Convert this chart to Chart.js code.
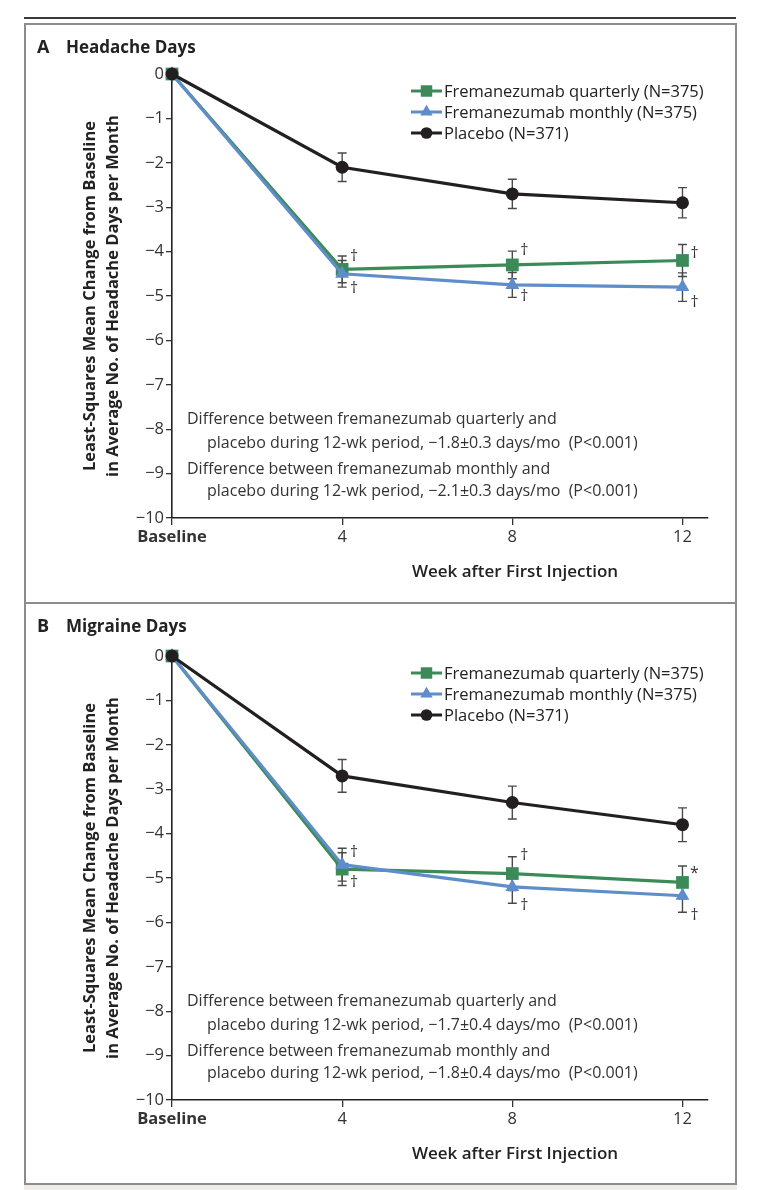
<!DOCTYPE html>
<html>
<head>
<meta charset="utf-8">
<script src="https://cdn.jsdelivr.net/npm/chart.js@4.4.0/dist/chart.umd.min.js"></script>
<style>
  html, body { margin: 0; padding: 0; background: #fff; }
  #wrap { position: relative; width: 775px; height: 1190px; overflow: hidden; }
  .rule { position: absolute; left: 24px; top: 17px; width: 712px; height: 2px; background: #3a3a3a; }
  .frame { position: absolute; left: 24px; top: 23px; width: 709px; height: 1158px; border: 2px solid #8c8c8c; }
  .sep { position: absolute; left: 24px; top: 602px; width: 713px; height: 2px; background: #8c8c8c; }
  .foot { position: absolute; left: 24px; top: 1185px; width: 713px; height: 5px; background: #efedea; }
  canvas { position: absolute; left: 0; }
</style>
</head>
<body>
<div id="wrap">
  <div class="rule"></div>
  <div class="frame"></div>
  <div class="sep"></div>
  <div class="foot"></div>
  <canvas id="panelA" width="775" height="603" style="top:0;width:775px;height:603px"></canvas>
  <canvas id="panelB" width="775" height="587" style="top:603px;width:775px;height:587px"></canvas>
</div>
<script>
// semanas e rótulos dos eixos
const weeks = [0, 4, 8, 12];
const xTicks = [0, 4, 8, 12];
const xTickLabels = ['Baseline', '4', '8', '12'];
const yTicks = [0, -1, -2, -3, -4, -5, -6, -7, -8, -9, -10];

const seriesNames = ['Fremanezumab quarterly (N=375)', 'Fremanezumab monthly (N=375)', 'Placebo (N=371)'];

// Painel A - dias de cefaleia
const quarterlyA = [0, -4.4, -4.3, -4.2];
const quarterlyErrA = [0, 0.3, 0.31, 0.36];
const monthlyA = [0, -4.5, -4.75, -4.8];
const monthlyErrA = [0, 0.3, 0.28, 0.32];
const placeboA = [0, -2.1, -2.7, -2.9];
const placeboErrA = [0, 0.32, 0.33, 0.34];

// Painel B - dias de enxaqueca
const quarterlyB = [0, -4.8, -4.9, -5.1];
const quarterlyErrB = [0, 0.37, 0.38, 0.37];
const monthlyB = [0, -4.7, -5.2, -5.4];
const monthlyErrB = [0, 0.37, 0.37, 0.37];
const placeboB = [0, -2.7, -3.3, -3.8];
const placeboErrB = [0, 0.37, 0.37, 0.38];

// símbolos de significância: [semana, valor, texto]
const symbolsA = [[4, -4.12, '†'], [4, -4.82, '†'], [8, -3.98, '†'], [8, -5.02, '†'], [12, -4.05, '†'], [12, -5.15, '†']];
const symbolsB = [[4, -4.42, '†'], [4, -5.1, '†'], [8, -4.5, '†'], [8, -5.62, '†'], [12, -4.9, '*'], [12, -5.85, '†']];

const notesA = [
  'Difference between fremanezumab quarterly and',
  'placebo during 12-wk period, \u22121.8\u00b10.3 days/mo  (P<0.001)',
  'Difference between fremanezumab monthly and',
  'placebo during 12-wk period, \u22122.1\u00b10.3 days/mo  (P<0.001)'
];
const notesB = [
  'Difference between fremanezumab quarterly and',
  'placebo during 12-wk period, \u22121.7\u00b10.4 days/mo  (P<0.001)',
  'Difference between fremanezumab monthly and',
  'placebo during 12-wk period, \u22121.8\u00b10.4 days/mo  (P<0.001)'
];

const GREEN = '#3b8a58';
const BLUE = '#5f8dca';
const BLACK = '#231f20';
const FONT = "'Open Sans', 'Noto Sans', sans-serif";

Chart.defaults.font.family = FONT;

// desenha o marcador da legenda (mesmas formas do Chart.js)
function drawMarker(ctx, style, r, x, y) {
  ctx.beginPath();
  if (style === 'circle') {
    ctx.arc(x, y, r, 0, Math.PI * 2);
  } else if (style === 'rect') {
    const s = Math.SQRT1_2 * r;
    ctx.rect(x - s, y - s, 2 * s, 2 * s);
  } else if (style === 'triangle') {
    ctx.moveTo(x, y - r);
    ctx.lineTo(x + r * 0.866, y + r / 2);
    ctx.lineTo(x - r * 0.866, y + r / 2);
    ctx.closePath();
  }
  ctx.fill();
}

const panelDecor = {
  id: 'panelDecor',
  beforeDatasetsDraw(chart) {
    // barras de erro
    const ctx = chart.ctx;
    const xs = chart.scales.x, ys = chart.scales.y;
    ctx.save();
    ctx.strokeStyle = '#4a4a4a';
    ctx.lineWidth = 1.4;
    chart.data.datasets.forEach(ds => {
      ds.data.forEach((p, i) => {
        const e = ds.errors[i];
        if (!e) return;
        const x = xs.getPixelForValue(p.x);
        const y1 = ys.getPixelForValue(p.y + e);
        const y2 = ys.getPixelForValue(p.y - e);
        ctx.beginPath();
        ctx.moveTo(x, y1); ctx.lineTo(x, y2);
        ctx.moveTo(x - 4.5, y1); ctx.lineTo(x + 4.5, y1);
        ctx.moveTo(x - 4.5, y2); ctx.lineTo(x + 4.5, y2);
        ctx.stroke();
      });
    });
    ctx.restore();
  },
  afterDraw(chart, args, opts) {
    const ctx = chart.ctx;
    const area = chart.chartArea;
    const xs = chart.scales.x, ys = chart.scales.y;
    ctx.save();
    ctx.textBaseline = 'middle';

    // título do painel
    ctx.fillStyle = '#222';
    ctx.textAlign = 'left';
    ctx.font = 'bold 18px ' + FONT;
    ctx.fillText(opts.letter, 37, opts.titleY);
    ctx.font = 'bold 17px ' + FONT;
    ctx.fillText(opts.title, 66, opts.titleY);

    // símbolos
    ctx.fillStyle = '#333';
    ctx.textAlign = 'center';
    ctx.font = '16px ' + FONT;
    opts.symbols.forEach(s => {
      ctx.fillText(s[2], xs.getPixelForValue(s[0]) + 12, ys.getPixelForValue(s[1]));
    });

    // legenda
    ctx.textAlign = 'left';
    ctx.font = '16.5px ' + FONT;
    const legendY = [17, 38, 59];
    [2, 1, 0].forEach((idx, k) => {
      const ds = chart.data.datasets[idx];
      const y = area.top + legendY[k];
      ctx.strokeStyle = ds.borderColor;
      ctx.fillStyle = ds.borderColor;
      ctx.lineWidth = 3;
      ctx.beginPath();
      ctx.moveTo(411, y); ctx.lineTo(442, y);
      ctx.stroke();
      drawMarker(ctx, ds.pointStyle, ds.pointRadius * 0.9, 426.5, y);
      ctx.fillStyle = '#222';
      ctx.fillText(ds.label, 444, y + 1);
    });

    // notas de diferença
    ctx.fillStyle = '#333';
    ctx.font = '16px ' + FONT;
    const noteY = [345, 369, 395, 417];
    const noteX = [187, 207, 187, 207];
    opts.notes.forEach((t, i) => ctx.fillText(t, noteX[i], area.top + noteY[i]));

    // título do eixo x
    ctx.fillStyle = '#222';
    ctx.textAlign = 'center';
    ctx.font = '600 17px ' + FONT;
    ctx.fillText('Week after First Injection', 515, area.bottom + 54);
    ctx.restore();
  }
};

function makeDataset(label, values, errors, color, style, radius) {
  return {
    label: label,
    data: weeks.map((w, i) => ({ x: w, y: values[i] })),
    errors: errors,
    borderColor: color,
    backgroundColor: color,
    borderWidth: 3.2,
    pointStyle: style,
    pointRadius: radius,
    pointBorderWidth: 0,
    pointBackgroundColor: color,
    tension: 0,
    clip: false
  };
}

function buildPanel(canvasId, cfg) {
  const ctx = document.getElementById(canvasId).getContext('2d');
  return new Chart(ctx, {
    type: 'line',
    data: {
      // ordem: placebo por cima, depois mensal, depois trimestral
      datasets: [
        makeDataset(seriesNames[2], cfg.placebo, cfg.placeboErr, BLACK, 'circle', 6.5),
        makeDataset(seriesNames[1], cfg.monthly, cfg.monthlyErr, BLUE, 'triangle', 8),
        makeDataset(seriesNames[0], cfg.quarterly, cfg.quarterlyErr, GREEN, 'rect', 9)
      ]
    },
    options: {
      responsive: false,
      animation: false,
      events: [],
      layout: { padding: { left: 75, right: 67, top: cfg.padTop, bottom: cfg.padBottom } },
      scales: {
        x: {
          type: 'linear',
          min: 0,
          max: 12.6,
          afterBuildTicks: s => { s.ticks = xTicks.map(v => ({ value: v })); },
          afterFit: s => { s.height = 70; },
          grid: { display: true, drawOnChartArea: false, drawTicks: true, tickLength: 7, color: '#333', lineWidth: 1.3 },
          border: { display: true, color: '#222', width: 1.6 },
          ticks: {
            autoSkip: false,
            maxRotation: 0,
            padding: 2,
            color: '#333',
            font: c => (c.tick && c.tick.value === 0) ? { size: 16.5, weight: 'bold' } : { size: 16.5 },
            callback: v => xTickLabels[xTicks.indexOf(v)]
          }
        },
        y: {
          type: 'linear',
          min: -10,
          max: 0,
          afterBuildTicks: s => { s.ticks = yTicks.map(v => ({ value: v })); },
          afterFit: s => { s.width = 97; },
          grid: { display: true, drawOnChartArea: false, drawTicks: true, tickLength: 6, color: '#333', lineWidth: 1.3 },
          border: { display: true, color: '#222', width: 1.6 },
          ticks: {
            padding: 2,
            color: '#333',
            font: { size: 16.5 },
            callback: v => v < 0 ? '\u2212' + Math.abs(v) : String(v)
          },
          title: {
            display: true,
            text: ['Least-Squares Mean Change from Baseline', 'in Average No. of Headache Days per Month'],
            color: '#222',
            font: { size: 16.5, weight: 'bold', lineHeight: 1.4 },
            padding: { top: 3.5, bottom: 0 }
          }
        }
      },
      plugins: {
        legend: { display: false },
        tooltip: { enabled: false },
        panelDecor: {
          letter: cfg.letter,
          title: cfg.title,
          titleY: cfg.titleY,
          notes: cfg.notes,
          symbols: cfg.symbols
        }
      }
    },
    plugins: [panelDecor]
  });
}

buildPanel('panelA', {
  letter: 'A', title: 'Headache Days', titleY: 48, padTop: 74, padBottom: 15,
  quarterly: quarterlyA, quarterlyErr: quarterlyErrA,
  monthly: monthlyA, monthlyErr: monthlyErrA,
  placebo: placeboA, placeboErr: placeboErrA,
  notes: notesA, symbols: symbolsA
});

buildPanel('panelB', {
  letter: 'B', title: 'Migraine Days', titleY: 24, padTop: 53, padBottom: 20,
  quarterly: quarterlyB, quarterlyErr: quarterlyErrB,
  monthly: monthlyB, monthlyErr: monthlyErrB,
  placebo: placeboB, placeboErr: placeboErrB,
  notes: notesB, symbols: symbolsB
});
</script>
</body>
</html>
